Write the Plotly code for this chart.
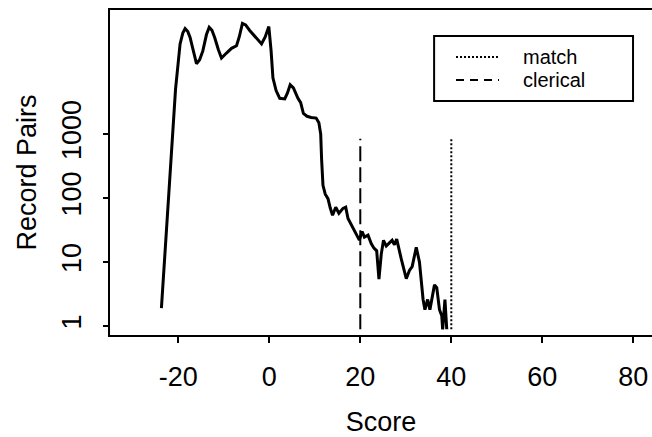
import plotly.graph_objects as go

# Score (x) and smoothed record-pair counts (y)
score = [-23.7, -23.4, -22.9, -22.3, -21.5, -20.6, -19.6, -19.0, -18.5, -17.9, -17.4, -16.6, -16.0,
         -15.3, -14.6, -13.8, -13.2, -12.6, -12.0, -11.2, -10.5, -9.4, -8.3, -7.2, -6.6, -5.9,
         -5.2, -4.3, -3.0, -1.7, -0.9, -0.1, 0.4, 0.8, 1.5, 2.3, 3.4, 4.0, 4.6, 5.3, 6.3, 6.9,
         7.5, 8.3, 9.2, 10.3, 10.9, 11.3, 11.5, 11.8, 12.3, 12.9, 13.4, 13.9, 14.6, 15.3, 16.2,
         16.8, 17.3, 17.9, 18.4, 19.1, 19.8, 20.4, 20.9, 21.7, 22.4, 23.0, 23.6, 24.1, 24.6,
         25.1, 25.7, 26.4, 27.0, 27.5, 28.0, 29.0, 30.1, 30.8, 31.4, 32.3, 33.0, 33.8, 34.2,
         34.8, 35.3, 36.3, 36.8, 37.4, 37.9, 38.1, 38.6, 39.0]
pairs = [1.9, 4.2, 16, 87, 710, 5000, 25700, 38000, 44700, 40000, 32400, 20000, 12600,
         14500, 20000, 36000, 46800, 42000, 32400, 21000, 15500, 18500, 21900, 24000, 33000, 53700,
         51000, 41700, 33000, 25700, 33000, 47900, 20000, 7600, 4800, 3630, 3550, 4400, 5900, 5300, 3630, 3100,
         2100, 1900, 1820, 1780, 1510, 1000, 400, 158, 115, 98, 70, 54, 72, 58, 69,
         72, 48, 40, 33, 27, 22, 30, 24.5, 26.3, 19.5, 16.5, 15, 5.4, 13.2,
         21.9, 17.8, 19.9, 21.9, 18.6, 22.9, 11.2, 5.5, 7.4, 8.5, 17, 10, 2.6, 1.8,
         2.6, 1.8, 4.4, 4.0, 1.8, 1.45, 0.89, 2.6, 0.89]

clerical_x = [20, 20]
match_x = [40, 40]
cutoff_y = [0.89, 850]

x_ticks = [-20, 0, 20, 40, 60, 80]
x_tick_text = ["-20", "0", "20", "40", "60", "80"]
y_ticks = [1, 10, 100, 1000]
y_tick_text = ["1", "10", "100", "1000"]

legend_names = ["match", "clerical"]
legend_dashes = ["2px,2px", "8px,6px"]

fig = go.Figure()
fig.add_trace(go.Scatter(x=score, y=pairs, mode="lines", showlegend=False,
                         line=dict(color="black", width=3)))
fig.add_trace(go.Scatter(x=match_x, y=cutoff_y, mode="lines", name="match", showlegend=False,
                         line=dict(color="black", width=2, dash="2px,2px")))
fig.add_trace(go.Scatter(x=clerical_x, y=cutoff_y, mode="lines", name="clerical", showlegend=False,
                         line=dict(color="black", width=2, dash="15px,6px")))

font = "Liberation Sans, Arial, sans-serif"

# Legend box drawn in paper coordinates
fig.add_shape(type="rect", xref="paper", yref="paper", x0=0.598, x1=0.965, y0=0.72, y1=0.92,
              line=dict(color="black", width=2), fillcolor="white", layer="above")
legend_y = [0.8554, 0.7846]
for name, dash, ly in zip(legend_names, legend_dashes, legend_y):
    fig.add_shape(type="line", xref="paper", yref="paper", x0=0.6384, x1=0.7177, y0=ly, y1=ly,
                  line=dict(color="black", width=2, dash=dash), layer="above")
    fig.add_annotation(xref="paper", yref="paper", x=0.758, y=ly, text=name, showarrow=False,
                       xanchor="left", yanchor="middle", font=dict(size=20, family=font, color="black"))

fig.update_layout(
    width=652, height=437,
    margin=dict(l=110, r=0, t=10, b=102),
    paper_bgcolor="white", plot_bgcolor="white",
    font=dict(family=font, color="black"),
    showlegend=False,
    xaxis=dict(range=[-35, 84.1], tickvals=x_ticks, ticktext=x_tick_text,
               ticks="outside", ticklen=6, tickwidth=2, tickcolor="black",
               showline=True, linewidth=2, linecolor="black", mirror=True,
               showgrid=False, zeroline=False,
               tickfont=dict(size=27), ticklabelstandoff=11,
               title=dict(text="Score", font=dict(size=27), standoff=26)),
    yaxis=dict(type="log", range=[-0.14, 4.94], tickvals=y_ticks,
               ticktext=y_tick_text, tickangle=-90,
               ticks="outside", ticklen=5, tickwidth=2, tickcolor="black",
               showline=True, linewidth=2, linecolor="black", mirror=False,
               showgrid=False, zeroline=False,
               tickfont=dict(size=27), ticklabelstandoff=11,
               title=dict(text="Record Pairs", font=dict(size=27), standoff=13)),
)

fig.write_html("out.html")
